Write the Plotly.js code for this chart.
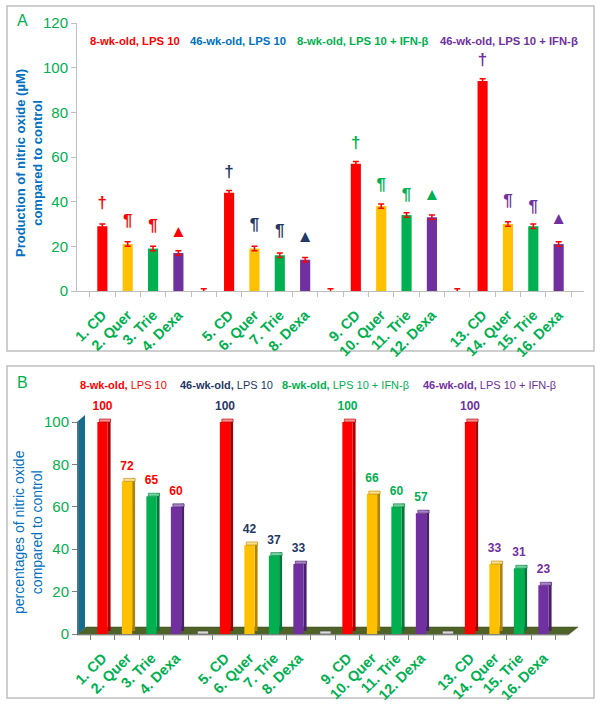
<!DOCTYPE html>
<html><head><meta charset="utf-8">
<script src="https://cdn.plot.ly/plotly-3.0.1.min.js"></script>
<style>html,body{margin:0;padding:0;background:#fff}#chart{width:600px;height:704px}</style>
</head><body><div id="chart"></div>
<script>
// ---------- data ----------
const categories = ["1. CD","2. Quer","3. Trie","4. Dexa","\u200b","5. CD","6. Quer","7. Trie","8. Dexa","\u200b\u200b","9. CD","10. Quer","11. Trie","12. Dexa","\u200b\u200b\u200b","13. CD","14. Quer","15. Trie","16. Dexa"];
const nitricOxideA = [29,21,19,17,0,44,19,16,14,0,57,38,34,33,0,94,30,29,21];
const nitricOxideErrA = [1,1,1,1,1,1,1,1,1,1,1,1,1,1,1,1,1,1,1];
const signifSymbols = ["†","¶","¶","▲","","†","¶","¶","▲","","†","¶","¶","▲","","†","¶","¶","▲"];
const signifY = [39,31,28.6,26,null,53,29,26.5,24,null,66,47,42.5,42.5,null,103,40,37.5,32];
const percentB = [100,72,65,60,0,100,42,37,33,0,100,66,60,57,0,100,33,31,23];
const groupLabelsA = ["<b>8-wk-old, LPS 10</b>","<b>46-wk-old, LPS 10</b>","<b>8-wk-old, LPS 10 + IFN-β</b>","<b>46-wk-old, LPS 10 + IFN-β</b>"];
const groupLabelsB = ["<b>8-wk-old,</b> LPS 10","<b>46-wk-old,</b> LPS 10","<b>8-wk-old,</b> LPS 10 + IFN-β","<b>46-wk-old,</b> LPS 10 + IFN-β"];

// ---------- styles ----------
const GREEN = "#00B050", BLUE = "#0070C0", RED = "#FF0000", NAVY = "#1F3864", PURPLE = "#7030A0", YELLOW = "#FFC000";
const FONT = "Liberation Sans, Arial, sans-serif";
const front = [RED,YELLOW,GREEN,PURPLE];
const side  = ["#A80000","#B08400","#00783A","#4A1F6E"];
const topc  = ["#FF8C8C","#FFE08A","#6FD39C","#A983C6"];
const groupColorsA = [RED,BLUE,GREEN,PURPLE];
const groupColorsB = [RED,NAVY,GREEN,PURPLE];
const symbolColors = [RED,NAVY,GREEN,PURPLE];

const slotKind = categories.map((c,i)=> (i%5===4) ? -1 : (i%5));      // -1 = spacer
const slotGroup = categories.map((c,i)=> Math.floor(i/5));
const colorAt = (arr, blank) => slotKind.map(k => k<0 ? blank : arr[k]);

const px = x => x/600, py = y => 1 - y/704;

// ---------- panel A ----------
const traceA = {
  type:"bar", x:categories, y:nitricOxideA, xaxis:"x", yaxis:"y",
  width:0.4, marker:{color:colorAt(front, RED), line:{width:0}},
  error_y:{type:"data", array:nitricOxideErrA, visible:true, color:RED, thickness:1.5, width:3},
  hoverinfo:"none", showlegend:false
};
const symA = {
  type:"scatter", mode:"text", x:categories, y:signifY, text:signifSymbols,
  xaxis:"x", yaxis:"y", cliponaxis:false,
  textfont:{family:FONT, size:17, weight:"bold", color:slotGroup.map(g=>symbolColors[g])},
  hoverinfo:"none", showlegend:false
};

// ---------- panel B (pseudo 3D) ----------
const frontB = {
  type:"bar", x:categories, y:percentB, xaxis:"x2", yaxis:"y2", cliponaxis:false,
  width:0.42, offset:-0.21, marker:{color:colorAt(front, "#BFBFBF"), line:{width:0}},
  hoverinfo:"none", showlegend:false
};
const sideB = {
  type:"bar", x:categories, y:percentB, base:percentB.map(()=>1.4), xaxis:"x2", yaxis:"y2", cliponaxis:false,
  width:0.12, offset:0.21, marker:{color:colorAt(side, "#7F7F7F"), line:{width:0}},
  hoverinfo:"none", showlegend:false
};
const topB = {
  type:"bar", x:categories, y:percentB.map(()=>1.4), base:percentB, xaxis:"x2", yaxis:"y2", cliponaxis:false,
  width:0.46, offset:-0.13, marker:{color:colorAt(topc, "#D9D9D9"), line:{width:0.6, color:colorAt(side,"#404040")}},
  hoverinfo:"none", showlegend:false
};
const labelB = {
  type:"scatter", mode:"text", x:categories, y:percentB.map(v=>v+7),
  text:percentB.map((v,i)=> slotKind[i]<0 ? "" : "<b>"+v+"</b>"),
  xaxis:"x2", yaxis:"y2", cliponaxis:false,
  textfont:{family:FONT, size:12, color:slotGroup.map(g=>groupColorsB[g])},
  hoverinfo:"none", showlegend:false
};

const axisCommonX = {
  type:"category", tickangle:-45, showgrid:false, zeroline:false,
  showline:true, linecolor:"#BFBFBF", linewidth:1,
  ticks:"outside", ticklen:5, tickcolor:"#BFBFBF", tickson:"boundaries", ticklabelstandoff:9,
  tickfont:{family:FONT, size:14.5, color:GREEN, weight:"bold"}, fixedrange:true
};
const axisCommonY = {
  showgrid:false, zeroline:false, showline:true, linecolor:"#BFBFBF", linewidth:1,
  ticks:"outside", ticklen:5, tickcolor:"#BFBFBF",
  tickfont:{family:FONT, size:15, color:GREEN}, fixedrange:true
};

const annotations = [];
const legXA = [88,188,295,438], legXB = [78,178,280,421];
groupLabelsA.forEach((t,i)=>annotations.push({xref:"paper",yref:"paper",x:px(legXA[i]),y:py(41),xanchor:"left",yanchor:"middle",showarrow:false,text:t,font:{family:FONT,size:11.3,color:groupColorsA[i]}}));
groupLabelsB.forEach((t,i)=>annotations.push({xref:"paper",yref:"paper",x:px(legXB[i]),y:py(385),xanchor:"left",yanchor:"middle",showarrow:false,text:t,font:{family:FONT,size:11,color:groupColorsB[i]}}));
annotations.push({xref:"paper",yref:"paper",x:px(22),y:py(20),xanchor:"center",yanchor:"middle",showarrow:false,text:"A",font:{family:FONT,size:16,color:GREEN}});
annotations.push({xref:"paper",yref:"paper",x:px(22),y:py(382),xanchor:"center",yanchor:"middle",showarrow:false,text:"B",font:{family:FONT,size:16,color:GREEN}});
annotations.push({xref:"paper",yref:"paper",x:px(29),y:py(163),xanchor:"center",yanchor:"middle",showarrow:false,textangle:-90,
  text:"<b>Production of nitric oxide (µM)<br>compared to control</b>",font:{family:FONT,size:13,color:BLUE}});
annotations.push({xref:"paper",yref:"paper",x:px(28),y:py(532),xanchor:"center",yanchor:"middle",showarrow:false,textangle:-90,
  text:"percentages of nitric oxide<br>compared to control",font:{family:FONT,size:14,color:BLUE}});

const pathOf = pts => "M " + pts.map(p=>px(p[0])+","+py(p[1])).join(" L ") + " Z";
const shapes = [
  {type:"rect",xref:"paper",yref:"paper",x0:px(7),x1:px(594),y0:py(351),y1:py(6),line:{color:"#BFBFBF",width:1.5},layer:"below"},
  {type:"rect",xref:"paper",yref:"paper",x0:px(7),x1:px(594),y0:py(698),y1:py(366),line:{color:"#BFBFBF",width:1.5},layer:"below"},
  {type:"path",xref:"paper",yref:"paper",path:pathOf([[77,635],[568,635],[578,627],[86,627]]),fillcolor:"#4F6228",line:{color:"#3B4A1E",width:0.5},layer:"below"},
  {type:"path",xref:"paper",yref:"paper",path:pathOf([[77,635],[77,422],[85,415],[85,628]]),fillcolor:"#166C8E",line:{width:0},layer:"below"},
  // y-axis line of panel B, from 0 to 100 only
  {type:"line",xref:"x2 domain",yref:"y2",x0:0,x1:0,y0:0,y1:100,line:{color:"#7F7F7F",width:1},layer:"above"}
];

// panel B: 0 at y=634px, 100 at y=422px -> 112 at ~396.6px
const yB0 = 634, yB100 = 422, yBmax = 112;
const yBtop = yB0 - (yB0 - yB100) * yBmax / 100;

const layout = {
  width:600, height:704, margin:{l:0,r:0,t:0,b:0},
  paper_bgcolor:"#fff", plot_bgcolor:"rgba(0,0,0,0)",
  barmode:"overlay", showlegend:false,
  xaxis: Object.assign({}, axisCommonX, {domain:[px(77),px(584)], anchor:"y"}),
  yaxis: Object.assign({}, axisCommonY, {domain:[py(291),py(23)], range:[0,120], tickvals:[0,20,40,60,80,100,120], anchor:"x"}),
  xaxis2: Object.assign({}, axisCommonX, {domain:[px(78),px(568)], anchor:"y2", linecolor:"#7F7F7F", tickcolor:"#7F7F7F"}),
  yaxis2: Object.assign({}, axisCommonY, {domain:[py(yB0),py(yBtop)], range:[0,yBmax], tickvals:[0,20,40,60,80,100], anchor:"x2", showline:false, tickcolor:"#7F7F7F"}),
  annotations, shapes
};

Plotly.newPlot("chart", [traceA, symA, sideB, frontB, topB, labelB], layout, {staticPlot:true, displayModeBar:false});
</script></body></html>
